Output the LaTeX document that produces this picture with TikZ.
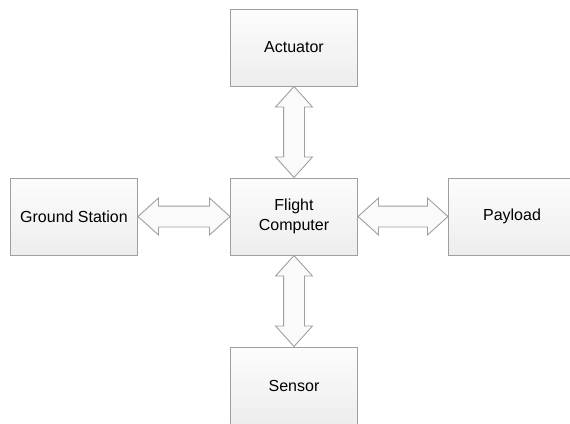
\documentclass[tikz,border=0pt]{standalone}
\usepackage{fontspec}
\setmainfont{Liberation Sans}
\usetikzlibrary{positioning}
\usetikzlibrary{calc,shapes.arrows}
\tikzset{unitbox/.style={rectangle,draw=gray!75,line width=1pt,top color=gray!2,bottom color=gray!14,
inner sep=2pt,minimum height=77pt, minimum width=127pt,font=\fontsize{16}{20}\selectfont,align=center}}
\tikzset{dblarrow/.style={double arrow,draw=gray!75,line width=0.9pt,fill=gray!4,
inner xsep=0pt,inner ysep=10pt,outer sep=0pt,minimum width=36pt,double arrow head extend=8pt,double arrow tip angle=84}}
\tikzset{duplex/.style={to path={let \p1=($(\tikztotarget)-(\tikztostart)$), \n1={veclen(\x1,\y1)} in
-- node[dblarrow, sloped, minimum height=\n1] {} (\tikztotarget)}}}

\begin{document}
\begin{tikzpicture}[x=1pt,y=1pt]
        \useasboundingbox (0,0) rectangle (570,-423);
        \clip (0,0) rectangle (570,-423);

        \node[unitbox] (fc) at (294, -216.5) {Flight\\Computer};
        \node[unitbox] (act) [above=91pt of fc] {Actuator};
        \node[unitbox] (gs) [left=92pt of fc] {Ground Station};
        \node[unitbox] (pl) [right=90pt of fc] {Payload};
        \node[unitbox] (sen) [below=91pt of fc] {Sensor};

        \path (act.south) to[duplex] (fc.north);
        \path (gs.east) to[duplex] (fc.west);
        \path (fc.east) to[duplex] (pl.west);
        \path (fc.south) to[duplex] (sen.north);

    \end{tikzpicture}
\end{document}
